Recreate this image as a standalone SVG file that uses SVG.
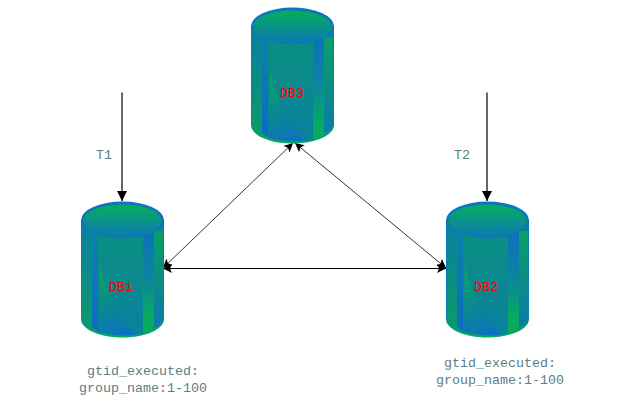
<svg xmlns="http://www.w3.org/2000/svg" width="617" height="417" viewBox="0 0 617 417">
  <style>
    .lbl { font-family: "Liberation Mono", "DejaVu Sans Mono", monospace; font-size: 13.33px; fill: #5a8080; text-anchor: middle; }
    .db { font-family: "Liberation Mono", "DejaVu Sans Mono", monospace; font-size: 13.33px; fill: #ff0000; text-anchor: middle; }
    .thin { stroke: #000; stroke-width: 0.8; fill: none; }
    .flat { stroke: #000; stroke-width: 1; fill: none; }
    .thick { stroke: #000; stroke-width: 1.2; fill: none; }
  </style>
  <defs>
    <marker id="big" markerUnits="userSpaceOnUse" markerWidth="11" markerHeight="11" refX="10" refY="5.5" orient="auto">
      <path d="M0 0.5 L10 5.5 L0 10.5 Z" fill="#000"/>
    </marker>
    <marker id="small" markerUnits="userSpaceOnUse" markerWidth="10" markerHeight="10" refX="9" refY="5" orient="auto-start-reverse">
      <path d="M0 0.5 L9 5 L0 9.500 L2 5 Z" fill="#000"/>
    </marker>
    <linearGradient id="rim" x1="0" y1="0" x2="0" y2="1">
      <stop offset="0" stop-color="#0c74c0"/>
      <stop offset="0.8" stop-color="#0c80a8"/>
      <stop offset="1" stop-color="#06ad58"/>
    </linearGradient>
    <linearGradient id="body" x1="0" y1="0" x2="0" y2="1">
      <stop offset="0" stop-color="#0a9080"/>
      <stop offset="1" stop-color="#0a80a0"/>
    </linearGradient>
    <linearGradient id="side" x1="0" y1="0" x2="0" y2="1">
      <stop offset="0" stop-color="#0a7ea4"/>
      <stop offset="1" stop-color="#0a9c64"/>
    </linearGradient>
    <linearGradient id="stripL" x1="0" y1="0" x2="0" y2="1">
      <stop offset="0" stop-color="#0c80a8"/>
      <stop offset="1" stop-color="#0c6cc4"/>
    </linearGradient>
    <linearGradient id="stripR" x1="0" y1="0" x2="0" y2="1">
      <stop offset="0" stop-color="#0c70bc"/>
      <stop offset="0.45" stop-color="#0c84a0"/>
      <stop offset="0.85" stop-color="#06ac5c"/>
    </linearGradient>
    <linearGradient id="edgeR" x1="0" y1="0" x2="0" y2="1">
      <stop offset="0" stop-color="#08a068"/>
      <stop offset="0.55" stop-color="#0a8c84"/>
      <stop offset="1" stop-color="#0c78b4"/>
    </linearGradient>
    <linearGradient id="wedge" gradientUnits="userSpaceOnUse" x1="18" y1="65" x2="45" y2="136">
      <stop offset="0" stop-color="#06ac5c"/>
      <stop offset="0.5" stop-color="#0a8a8c"/>
      <stop offset="1" stop-color="#0c70c4"/>
    </linearGradient>
    <linearGradient id="lid" x1="0" y1="0" x2="0" y2="1">
      <stop offset="0" stop-color="#06ae58"/>
      <stop offset="1" stop-color="#0c78b8"/>
    </linearGradient>
    <!-- cylinder, origin at the top-left of its bounding box -->
    <g id="cyl">
      <path d="M0 19 V118 C0 128 18 136.500 41.500 136.500 C65 136.500 83 128 83 118 V19 Z" fill="url(#rim)"/>
      <path d="M1 19 V117 C1 127 19 134 41.500 134 C64 134 82 127 82 117 V19 Z" fill="url(#side)"/>
      <path d="M11 30 H17 V130 L11 126 Z" fill="url(#stripL)"/>
      <path d="M17 30 H62 V133 C50 135 35 135 17 131 Z" fill="url(#body)"/>
      <path d="M19 65 L17 131 C30 134 42 135 53 134 C36 115 25 90 19 65 Z" fill="url(#wedge)"/>
      <path d="M62 30 H73 V127 C70 130 66 132 62 133 Z" fill="url(#stripR)"/>
      <path d="M73 30 H82 V117 C82 120 78 124 73 127 Z" fill="url(#edgeR)"/>
      <ellipse cx="41.500" cy="19" rx="41.500" ry="18.500" fill="#0c74c0"/>
      <ellipse cx="41.500" cy="20" rx="39.500" ry="16.500" fill="url(#lid)"/>
    </g>
  </defs>

  <g id="connectors">
    <path class="thick" d="M122 92.500 V201" marker-end="url(#big)"/>
    <path class="thick" d="M487 92.500 V201" marker-end="url(#big)"/>
    <path class="thin" d="M293 143 L163 268" marker-start="url(#small)" marker-end="url(#small)"/>
    <path class="thin" d="M295 143 L446 268" marker-start="url(#small)" marker-end="url(#small)"/>
    <path class="flat" d="M163 268.500 H446" marker-start="url(#small)" marker-end="url(#small)"/>
  </g>

  <g id="node-db3">
    <use href="#cyl" x="251" y="7"/>
    <text class="db" x="292" y="97">DB3</text>
  </g>
  <g id="node-db1">
    <use href="#cyl" x="81" y="201"/>
    <text class="db" x="121" y="291">DB1</text>
  </g>
  <g id="node-db2">
    <use href="#cyl" x="446" y="201"/>
    <text class="db" x="486" y="291">DB2</text>
  </g>

  <g id="labels">
    <text class="lbl" x="104" y="159">T1</text>
    <text class="lbl" x="462" y="159">T2</text>
    <text class="lbl" x="143" y="375">gtid_executed:</text>
    <text class="lbl" x="143" y="392">group_name:1-100</text>
    <text class="lbl" x="500" y="367">gtid_executed:</text>
    <text class="lbl" x="500" y="384">group_name:1-100</text>
  </g>
</svg>
